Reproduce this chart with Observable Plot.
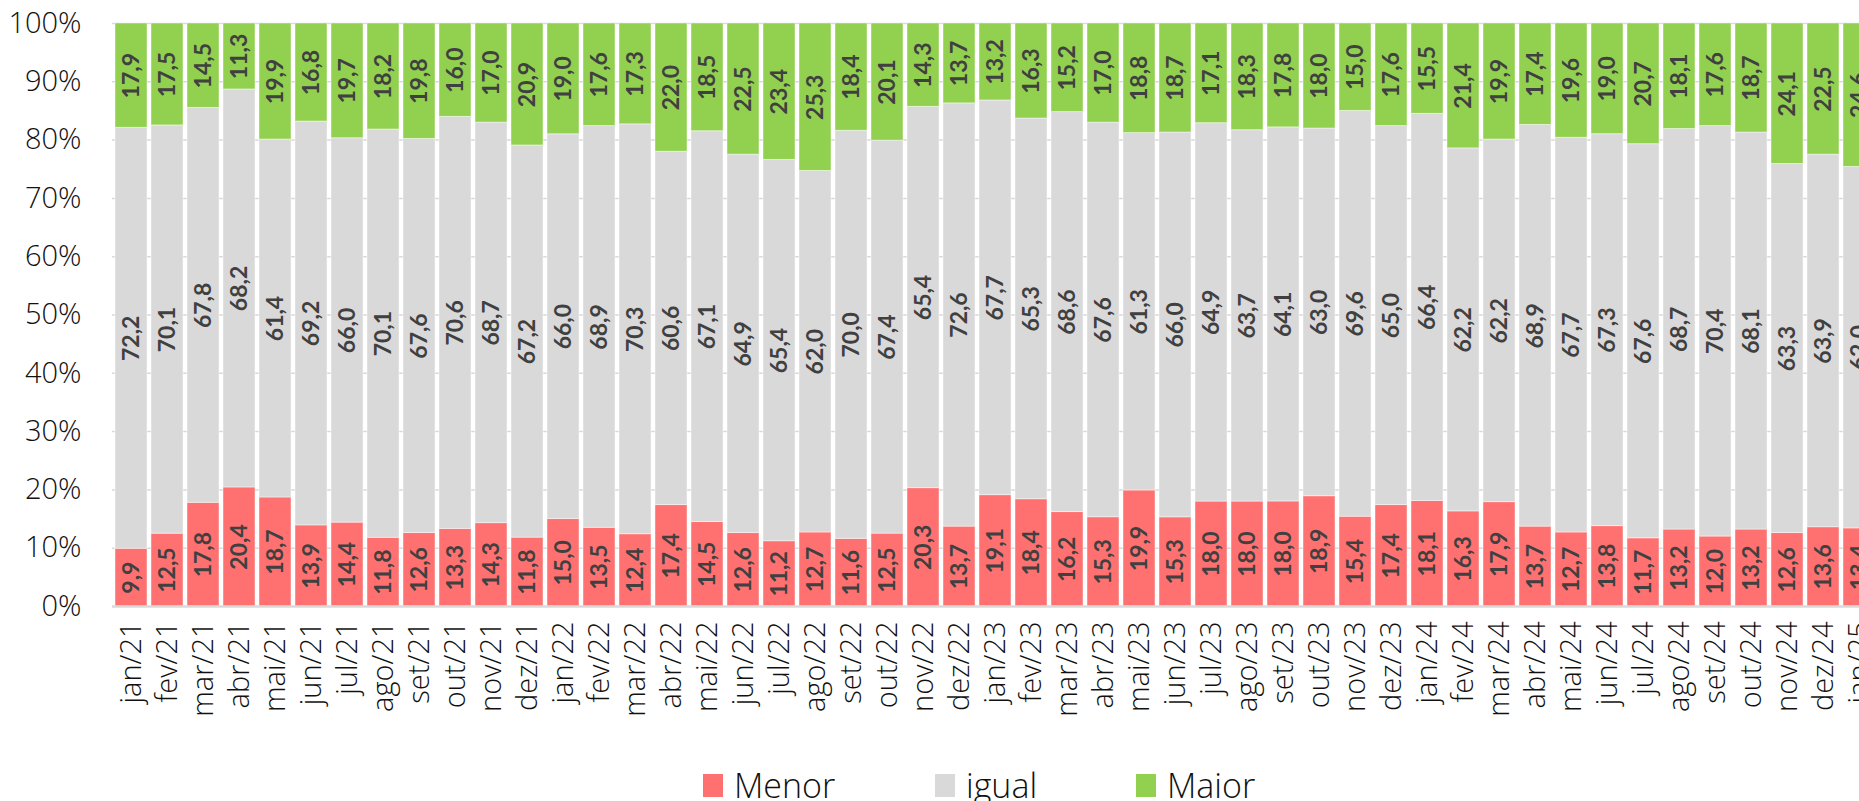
<!DOCTYPE html>
<html>
<head>
<meta charset="utf-8">
<script src="https://cdn.jsdelivr.net/npm/d3@7"></script>
<script src="https://cdn.jsdelivr.net/npm/@observablehq/plot@0.6"></script>
<style>
  html, body { margin: 0; padding: 0; background: #fff; overflow: hidden; width: 1859px; height: 801px; }
  #chart { position: relative; width: 1859px; }
  #chart svg { display: block; overflow: hidden; }
  .legend { position: relative; width: 1859px; height: 36px; font-family: "Open Sans", sans-serif; font-weight: 300; font-size: 34px; line-height: 34px; color: #111; }
  .legend .sw { position: absolute; top: 9px; width: 20px; height: 23px; }
  .legend .lb { position: absolute; top: 3px; white-space: nowrap; }
</style>
</head>
<body>
<div id="chart"></div>
<script>
const months = ["jan/21","fev/21","mar/21","abr/21","mai/21","jun/21","jul/21","ago/21","set/21","out/21","nov/21","dez/21",
  "jan/22","fev/22","mar/22","abr/22","mai/22","jun/22","jul/22","ago/22","set/22","out/22","nov/22","dez/22",
  "jan/23","fev/23","mar/23","abr/23","mai/23","jun/23","jul/23","ago/23","set/23","out/23","nov/23","dez/23",
  "jan/24","fev/24","mar/24","abr/24","mai/24","jun/24","jul/24","ago/24","set/24","out/24","nov/24","dez/24",
  "jan/25"];
const menor = [9.9,12.5,17.8,20.4,18.7,13.9,14.4,11.8,12.6,13.3,14.3,11.8,
  15.0,13.5,12.4,17.4,14.5,12.6,11.2,12.7,11.6,12.5,20.3,13.7,
  19.1,18.4,16.2,15.3,19.9,15.3,18.0,18.0,18.0,18.9,15.4,17.4,
  18.1,16.3,17.9,13.7,12.7,13.8,11.7,13.2,12.0,13.2,12.6,13.6,
  13.4];
const igual = [72.2,70.1,67.8,68.2,61.4,69.2,66.0,70.1,67.6,70.6,68.7,67.2,
  66.0,68.9,70.3,60.6,67.1,64.9,65.4,62.0,70.0,67.4,65.4,72.6,
  67.7,65.3,68.6,67.6,61.3,66.0,64.9,63.7,64.1,63.0,69.6,65.0,
  66.4,62.2,62.2,68.9,67.7,67.3,67.6,68.7,70.4,68.1,63.3,63.9,
  62.0];
const maior = [17.9,17.5,14.5,11.3,19.9,16.8,19.7,18.2,19.8,16.0,17.0,20.9,
  19.0,17.6,17.3,22.0,18.5,22.5,23.4,25.3,18.4,20.1,14.3,13.7,
  13.2,16.3,15.2,17.0,18.8,18.7,17.1,18.3,17.8,18.0,15.0,17.6,
  15.5,21.4,19.9,17.4,19.6,19.0,20.7,18.1,17.6,18.7,24.1,22.5,
  24.6];
const seriesNames = ["Menor", "igual", "Maior"];
const seriesColors = ["#FF7171", "#D9D9D9", "#92D050"];
const yTicks = [0,0.1,0.2,0.3,0.4,0.5,0.6,0.7,0.8,0.9,1];

const seriesValues = [menor, igual, maior];
const rows = [];
months.forEach((m, i) => {
  seriesNames.forEach((s, k) => rows.push({month: m, series: s, value: seriesValues[k][i]}));
});

const fmt = v => v.toFixed(1).replace(".", ",");
const stackOpts = {offset: "normalize", order: seriesNames};

const W = 1859, H = 765;
const step = 36.05;
const chart = Plot.plot({
  width: W,
  height: H,
  marginLeft: 112,
  marginRight: 0,
  marginTop: 23,
  marginBottom: H - 606,
  style: {fontFamily: "Open Sans, sans-serif", fontWeight: 300, background: "#fff", color: "#111"},
  x: {type: "band", domain: months, range: [112, 112 + months.length * step], paddingInner: 0.1, paddingOuter: 0.05, label: null},
  y: {domain: [0, 1], label: null},
  color: {domain: seriesNames, range: seriesColors},
  marks: [
    Plot.ruleY(yTicks.filter(d => d > 0), {stroke: "#D9D9D9", strokeWidth: 1.5}),
    Plot.barY(rows, Plot.stackY(stackOpts, {x: "month", y: "value", z: "series", fill: "series", stroke: "#ffffff", strokeOpacity: 0.45, strokeWidth: 1})),
    Plot.ruleY([0], {stroke: "#D9D9D9", strokeWidth: 2.5}),
    Plot.text(rows, Plot.stackY(stackOpts, {x: "month", y: "value", z: "series", text: d => fmt(d.value), rotate: -90, fill: "#404040", fontSize: 23, fontWeight: "bold", fontFamily: "Lato, sans-serif"})),
    Plot.axisY({ticks: yTicks, tickFormat: d => Math.round(d * 100) + "%", tickSize: 0, tickPadding: 31, fontSize: 29, fontWeight: 300, label: null}),
    Plot.axisX({tickRotate: -90, tickSize: 0, tickPadding: 15, fontSize: 29, fontWeight: 300, label: null})
  ]
});
const root = document.getElementById("chart");
root.appendChild(chart);

// legend below the SVG
const legend = document.createElement("div");
legend.className = "legend";
const legendLeft = [703, 935, 1136];
seriesNames.forEach((s, k) => {
  const sw = document.createElement("div");
  sw.className = "sw";
  sw.style.left = legendLeft[k] + "px";
  sw.style.background = seriesColors[k];
  legend.appendChild(sw);
  const lb = document.createElement("div");
  lb.className = "lb";
  lb.style.left = (legendLeft[k] + 31) + "px";
  lb.textContent = s;
  legend.appendChild(lb);
});
root.appendChild(legend);
</script>
</body>
</html>
